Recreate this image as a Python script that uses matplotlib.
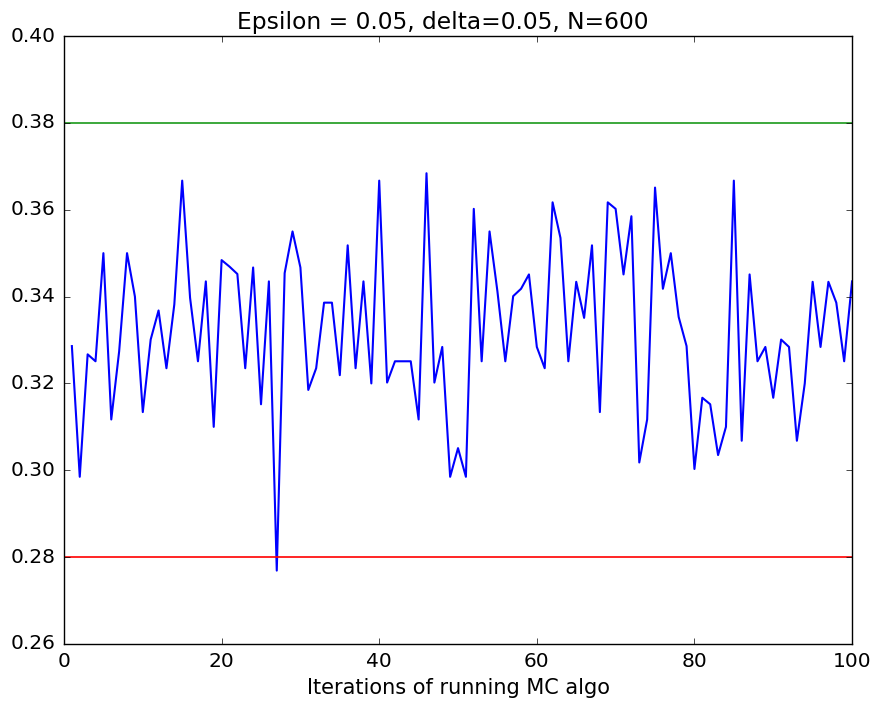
import numpy as np
import matplotlib
matplotlib.use("Agg")
import matplotlib.pyplot as plt

# MC estimate per iteration
iterations = list(range(1, 101))
estimates = [
    0.3286, 0.2985, 0.3267, 0.3251, 0.3500, 0.3117, 0.3274, 0.3500, 0.3400, 0.3134,
    0.3301, 0.3368, 0.3235, 0.3382, 0.3667, 0.3397, 0.3251, 0.3435, 0.3100, 0.3484,
    0.3469, 0.3452, 0.3235, 0.3467, 0.3152, 0.3435, 0.2769, 0.3454, 0.3550, 0.3467,
    0.3185, 0.3235, 0.3386, 0.3386, 0.3219, 0.3518, 0.3235, 0.3435, 0.3200, 0.3667,
    0.3202, 0.3251, 0.3251, 0.3251, 0.3117, 0.3684, 0.3202, 0.3284, 0.2985, 0.3051,
    0.2985, 0.3602, 0.3251, 0.3550, 0.3412, 0.3251, 0.3401, 0.3418, 0.3451, 0.3284,
    0.3235, 0.3617, 0.3535, 0.3251, 0.3434, 0.3351, 0.3518, 0.3134, 0.3617, 0.3602,
    0.3451, 0.3585, 0.3018, 0.3117, 0.3651, 0.3418, 0.3500, 0.3353, 0.3286, 0.3003,
    0.3167, 0.3152, 0.3035, 0.3100, 0.3667, 0.3068, 0.3451, 0.3251, 0.3284, 0.3167,
    0.3301, 0.3284, 0.3068, 0.3200, 0.3434, 0.3284, 0.3434, 0.3386, 0.3251, 0.3435,
]
upper_bound = 0.38
lower_bound = 0.28

plt.style.use("classic")
fig = plt.figure(figsize=(8.73, 7.09), dpi=100, facecolor="white")
ax = fig.add_axes([0.0733, 0.0917, 0.9027, 0.8575])

ax.plot(iterations, estimates, color="b", linewidth=1.5)
ax.axhline(upper_bound, color="#1a9a1a", linewidth=1.2)
ax.axhline(lower_bound, color="r", linewidth=1.2)

ax.set_xlim(0, 100)
ax.set_ylim(0.26, 0.40)
ax.set_xticks(np.arange(0, 101, 20))
ax.set_yticks(np.arange(0.26, 0.401, 0.02))
ax.yaxis.set_major_formatter(matplotlib.ticker.FormatStrFormatter("%.2f"))
ax.tick_params(labelsize=14.5, pad=6)

t = ax.set_title("Epsilon = 0.05, delta=0.05, N=600", fontsize=16.8)
t.set_x(0.48)  # title sits a bit left of the axes centre in the original
ax.set_xlabel("Iterations of running MC algo", fontsize=15)

fig.savefig("out.png", dpi=100, facecolor="white")
